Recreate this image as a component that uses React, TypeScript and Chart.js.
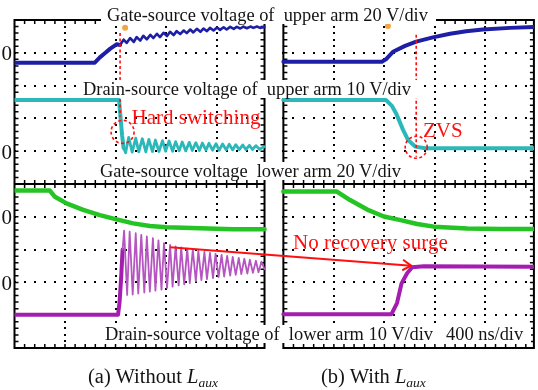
import React, { useEffect, useRef } from 'react';
import { Chart, registerables } from 'chart.js';

Chart.register(...registerables);

type Pt = [number, number];

// ---------- DATA (time in divisions from panel's left edge, level in divisions from bottom) ----------
// (a) Without Laux
const aGateUpper: Pt[] = [
  [0, 8.70], [1.59, 8.70], [1.69, 8.86], [1.80, 9.00], [1.89, 9.12], [2.02, 9.26],
  [2.09, 9.24], [2.16, 9.40], [2.22, 9.30], [2.29, 9.45], [2.36, 9.33], [2.42, 9.48], [2.49, 9.37], [2.55, 9.52], [2.62, 9.41], [2.69, 9.55],
  [2.75, 9.45], [2.82, 9.58], [2.88, 9.48], [2.95, 9.61], [3.02, 9.51], [3.08, 9.64], [3.15, 9.54], [3.21, 9.66], [3.28, 9.57], [3.35, 9.68],
  [3.41, 9.60], [3.48, 9.71], [3.54, 9.62], [3.61, 9.73], [3.68, 9.64], [3.74, 9.74], [3.81, 9.66], [3.87, 9.76], [3.94, 9.68], [4.01, 9.77],
  [4.07, 9.70], [4.14, 9.78], [4.20, 9.71], [4.27, 9.79], [4.34, 9.73], [4.40, 9.79], [4.47, 9.74], [4.53, 9.80], [4.60, 9.75], [4.67, 9.80],
  [4.73, 9.76], [4.80, 9.80], [4.86, 9.76], [4.95, 9.79],
];
const aDrainUpper: Pt[] = [
  [0, 7.56], [2.07, 7.56], [2.10, 7.01], [2.13, 6.49], [2.16, 6.10],
  [2.20, 5.95], [2.26, 6.42], [2.33, 5.97], [2.40, 6.40], [2.46, 5.98], [2.53, 6.38], [2.60, 5.98], [2.66, 6.36], [2.73, 5.99], [2.79, 6.34],
  [2.86, 5.99], [2.93, 6.32], [2.99, 6.00], [3.06, 6.31], [3.13, 6.00], [3.19, 6.29], [3.26, 6.01], [3.32, 6.28], [3.39, 6.01], [3.46, 6.27],
  [3.52, 6.02], [3.59, 6.26], [3.66, 6.02], [3.72, 6.25], [3.79, 6.03], [3.85, 6.24], [3.92, 6.03], [3.99, 6.23], [4.05, 6.03], [4.12, 6.22],
  [4.19, 6.04], [4.25, 6.21], [4.32, 6.04], [4.38, 6.20], [4.45, 6.05], [4.52, 6.19], [4.58, 6.05], [4.65, 6.18], [4.71, 6.05], [4.78, 6.17],
  [4.85, 6.06], [4.95, 6.14],
];
const aGateLower: Pt[] = [
  [0, 4.80], [0.70, 4.80], [0.80, 4.61], [1.03, 4.41], [1.36, 4.21], [1.69, 4.05], [2.02, 3.92],
  [2.35, 3.80], [2.68, 3.72], [3.01, 3.68], [3.67, 3.65], [4.33, 3.62], [4.95, 3.62],
];
const aDrainLower: Pt[] = [
  [0, 1.01], [2.05, 1.01], [2.08, 1.40], [2.11, 2.10], [2.14, 3.00], [2.17, 3.58],
  [2.23, 1.62], [2.28, 3.55], [2.34, 1.63], [2.40, 3.50], [2.45, 1.66], [2.51, 3.45], [2.57, 1.69], [2.62, 3.40], [2.68, 1.72], [2.74, 3.35],
  [2.79, 1.75], [2.85, 3.28], [2.91, 1.78], [2.96, 3.20], [3.02, 1.83], [3.08, 3.14], [3.13, 1.87], [3.19, 3.10], [3.25, 1.91], [3.30, 3.07],
  [3.36, 1.94], [3.42, 3.03], [3.47, 1.98], [3.53, 3.00], [3.59, 2.03], [3.64, 2.96], [3.70, 2.07], [3.76, 2.93], [3.81, 2.10], [3.87, 2.90],
  [3.93, 2.13], [3.98, 2.87], [4.04, 2.16], [4.10, 2.84], [4.15, 2.18], [4.21, 2.81], [4.27, 2.21], [4.32, 2.78], [4.38, 2.23], [4.44, 2.75],
  [4.49, 2.25], [4.55, 2.72], [4.61, 2.27], [4.66, 2.69], [4.72, 2.29], [4.78, 2.66], [4.83, 2.31], [4.89, 2.63], [4.95, 2.40],
];

// (b) With Laux
const bGateUpper: Pt[] = [
  [0, 8.73], [1.95, 8.73], [2.03, 8.80], [2.17, 9.03], [2.41, 9.21], [2.63, 9.34], [2.96, 9.47],
  [3.30, 9.58], [3.62, 9.66], [3.95, 9.71], [4.49, 9.76], [4.96, 9.79],
];
const bDrainUpper: Pt[] = [
  [0, 7.56], [2.03, 7.56], [2.15, 7.38], [2.23, 7.16], [2.37, 6.65], [2.47, 6.34], [2.61, 6.14], [2.81, 6.09], [4.96, 6.09],
];
const bGateLower: Pt[] = [
  [0, 4.77], [1.06, 4.77], [1.32, 4.51], [1.66, 4.22], [1.99, 4.01], [2.32, 3.90], [2.65, 3.78],
  [2.98, 3.70], [3.64, 3.64], [4.31, 3.63], [4.96, 3.63],
];
const bDrainLower: Pt[] = [
  [0, 1.03], [2.14, 1.03], [2.25, 1.37], [2.34, 1.97], [2.45, 2.28], [2.55, 2.46], [2.78, 2.49], [4.96, 2.48],
];

// annotations (per panel, local divisions)
const switchLineT = [2.09, 2.63];
const switchLineTop = [9.60, 9.55];
const switchLineBottom = [7.05, 5.83];
const circleCenters: Pt[] = [[2.14, 6.59], [2.63, 6.12]];
const triggerMarks: Pt[] = [[2.19, 9.76], [2.07, 9.82]];
const arrowFrom: Pt = [3.08, 3.07]; // panel (a)
const arrowTo: Pt = [2.53, 2.51];   // panel (b)
const ringStartA = { gateUpper: 2.09, drainUpper: 2.16, drainLower: 2.14 };
const zeroLevels = [9, 6, 4, 2];

// ---------- layout / style ----------
const panelOffset = [0, 5.323];
const panelSpan = [4.95, 4.96];
const X_MAX = 10.285;
const Y_DIVS = 10;
const BLUE = '#1e1ea6';
const CYAN = '#2cb8b8';
const GREEN = '#25c425';
const MAGENTA = '#a41cb0';
const MAGENTA_RING = '#b555c0';
const RED = '#ff1010';
const ORANGE = '#f2a540';
const circleRadiusPx = [11.5, 11];

const SERIF = '"Liberation Serif", "Times New Roman", serif';

const scopeLabels = [
  { text: 'Gate-source voltage of  upper arm 20 V/div', x: 107, base: 21 },
  { text: 'Drain-source voltage of  upper arm 10 V/div', x: 83, base: 95 },
  { text: 'Gate-source voltage  lower arm 20 V/div', x: 100, base: 177 },
  { text: 'Drain-source voltage of  lower arm 10 V/div', x: 105, base: 340 },
  { text: '400 ns/div', x: 446, base: 340 },
];
const redLabels = [
  { text: 'Hard switching', x: 131.5, base: 125 },
  { text: 'ZVS', x: 423, base: 138 },
  { text: 'No recovery surge', x: 293, base: 250 },
];

function shift(pts: Pt[], panel: number) {
  return pts.map(([t, v]) => ({ x: t + panelOffset[panel], y: v }));
}

const scopeGrid = {
  id: 'scopeGrid',
  beforeDatasetsDraw(chart: any) {
    const { ctx, scales } = chart;
    const xs = scales.x, ys = scales.y;
    ctx.save();
    ctx.fillStyle = '#000';
    ctx.strokeStyle = '#000';
    panelOffset.forEach((off, i) => {
      const span = panelSpan[i];
      const px = (d: number) => xs.getPixelForValue(off + d);
      const py = (v: number) => ys.getPixelForValue(v);
      const dot = (x: number, y: number) => ctx.fillRect(Math.round(x) - 1, Math.round(y) - 1, 2, 2);
      for (let d = 1; d <= 4; d++) {
        for (let k = 0; k <= Y_DIVS * 5; k++) dot(px(d), py(k * 0.2));
      }
      [1, 2, 3, 4, 6, 7, 8, 9].forEach((v) => {
        for (let k = 0; k * 0.2 <= span; k++) dot(px(k * 0.2), py(v));
      });
      const L = px(0), R = px(span), T = py(Y_DIVS), B = py(0), M = py(5);
      ctx.lineWidth = 2;
      ctx.strokeRect(L, T, R - L, B - T);
      ctx.beginPath();
      ctx.moveTo(L, M); ctx.lineTo(R, M);
      ctx.stroke();
      ctx.lineWidth = 1.5;
      ctx.beginPath();
      for (let k = 1; k < Y_DIVS * 5; k++) {
        const y = py(k * 0.2);
        ctx.moveTo(L, y); ctx.lineTo(L + 4, y);
        ctx.moveTo(R, y); ctx.lineTo(R - 4, y);
      }
      for (let k = 1; k * 0.2 < span; k++) {
        const x = px(k * 0.2);
        ctx.moveTo(x, T); ctx.lineTo(x, T + 4);
        ctx.moveTo(x, B); ctx.lineTo(x, B - 4);
        ctx.moveTo(x, M - 4); ctx.lineTo(x, M + 4);
      }
      ctx.stroke();
    });
    ctx.restore();
  },
};

const annotations = {
  id: 'annotations',
  afterDatasetsDraw(chart: any) {
    const { ctx, scales } = chart;
    const xs = scales.x, ys = scales.y;
    ctx.save();
    ctx.strokeStyle = RED;
    ctx.lineWidth = 1.6;
    ctx.setLineDash([3, 2.5]);
    circleCenters.forEach(([t, v], i) => {
      ctx.beginPath();
      ctx.arc(xs.getPixelForValue(t + panelOffset[i]), ys.getPixelForValue(v), circleRadiusPx[i], 0, Math.PI * 2);
      ctx.stroke();
    });
    ctx.setLineDash([]);
    const meta = chart.getDatasetMeta(0);
    const p0 = meta.data[0], p1 = meta.data[1];
    if (p0 && p1) {
      const ang = Math.atan2(p1.y - p0.y, p1.x - p0.x);
      const len = 10;
      ctx.lineWidth = 2;
      ctx.beginPath();
      ctx.moveTo(p1.x - len * Math.cos(ang - 0.55), p1.y - len * Math.sin(ang - 0.55));
      ctx.lineTo(p1.x, p1.y);
      ctx.lineTo(p1.x - len * Math.cos(ang + 0.55), p1.y - len * Math.sin(ang + 0.55));
      ctx.stroke();
    }
    ctx.restore();
  },
};

function ringWidth(start: number, thick: number, thin: number) {
  return (c: any) => (c.p0.parsed.x >= start ? thin : thick);
}
function ringColor(start: number, base: string, ring: string) {
  return (c: any) => (c.p0.parsed.x >= start ? ring : base);
}

export default function App() {
  const canvasRef = useRef<HTMLCanvasElement | null>(null);

  useEffect(() => {
    const canvas = canvasRef.current;
    if (!canvas) return;
    const trace = (data: any[], color: string, width: number, extra: any = {}) => ({
      data, borderColor: color, backgroundColor: color, borderWidth: width,
      pointRadius: 0, borderJoinStyle: 'round', borderCapStyle: 'round', fill: false, ...extra,
    });
    const datasets: any[] = [
      {
        data: [
          { x: arrowFrom[0] + panelOffset[0], y: arrowFrom[1] },
          { x: arrowTo[0] + panelOffset[1], y: arrowTo[1] },
        ],
        borderColor: RED, borderWidth: 2, pointRadius: 0,
      },
      ...switchLineT.map((t, i) => ({
        data: [
          { x: t + panelOffset[i], y: switchLineTop[i] },
          { x: t + panelOffset[i], y: switchLineBottom[i] },
        ],
        borderColor: RED, borderWidth: 1.6, borderDash: [3, 2.5], pointRadius: 0,
      })),
      {
        data: triggerMarks.map(([t, v], i) => ({ x: t + panelOffset[i], y: v })),
        showLine: false, pointRadius: 3, pointStyle: 'circle',
        backgroundColor: ORANGE, borderColor: ORANGE, borderWidth: 0,
      },
      trace(shift(aGateUpper, 0), BLUE, 3.5, { segment: { borderWidth: ringWidth(ringStartA.gateUpper, 4, 2.6) } }),
      trace(shift(aDrainUpper, 0), CYAN, 4, { segment: { borderWidth: ringWidth(ringStartA.drainUpper, 4, 2.8) } }),
      trace(shift(aGateLower, 0), GREEN, 4.5),
      trace(shift(aDrainLower, 0), MAGENTA, 4, {
        segment: {
          borderWidth: ringWidth(ringStartA.drainLower, 4, 1.8),
          borderColor: ringColor(ringStartA.drainLower, MAGENTA, MAGENTA_RING),
        },
      }),
      trace(shift(bGateUpper, 1), BLUE, 4),
      trace(shift(bDrainUpper, 1), CYAN, 4),
      trace(shift(bGateLower, 1), GREEN, 4.5),
      trace(shift(bDrainLower, 1), MAGENTA, 4),
    ];

    const chart = new Chart(canvas, {
      type: 'line',
      data: { datasets },
      options: {
        animation: false,
        responsive: false,
        maintainAspectRatio: false,
        devicePixelRatio: 1,
        layout: { padding: { left: 14.5, top: 20, right: 4, bottom: 42 } },
        scales: {
          x: { type: 'linear', min: 0, max: X_MAX, display: false },
          y: { type: 'linear', min: 0, max: Y_DIVS, display: false },
        },
        plugins: { legend: { display: false }, tooltip: { enabled: false } },
        elements: { line: { tension: 0 } },
      } as any,
      plugins: [scopeGrid, annotations],
    });
    return () => chart.destroy();
  }, []);

  const fsLabel = 18.4;
  const fsRed = 21;
  const asc = 0.8375;

  return (
    <div style={{ position: 'absolute', left: 0, top: 0, width: 538, height: 390, background: '#fff', overflow: 'hidden' }}>
      <canvas ref={canvasRef} width={538} height={390}
        style={{ position: 'absolute', left: 0, top: 0, width: 538, height: 390 }} />
      {scopeLabels.map((l, i) => (
        <div key={'s' + i} style={{
          position: 'absolute', left: l.x - 6, top: l.base - asc * fsLabel,
          fontFamily: SERIF, fontSize: fsLabel, lineHeight: 1, whiteSpace: 'pre',
          background: '#fff', color: '#141414', padding: '0 8px 0 6px',
        }}>{l.text}</div>
      ))}
      {redLabels.map((l, i) => (
        <div key={'r' + i} style={{
          position: 'absolute', left: l.x, top: l.base - asc * fsRed,
          fontFamily: SERIF, fontSize: fsRed, lineHeight: 1, whiteSpace: 'pre', color: RED,
        }}>{l.text}</div>
      ))}
      {zeroLevels.map((v, i) => (
        <div key={'z' + i} style={{
          position: 'absolute', left: 1.5, top: 348 - v * 32.8 + 8 - asc * 21,
          fontFamily: SERIF, fontSize: 21, lineHeight: 1, color: '#141414',
        }}>0</div>
      ))}
      <div style={{ position: 'absolute', left: 88, top: 383 - asc * 20.5, fontFamily: SERIF, fontSize: 20.5, lineHeight: 1, whiteSpace: 'pre', color: '#141414' }}>
        (a) Without <i>L</i><i style={{ fontSize: 13.5, position: 'relative', top: 4 }}>aux</i>
      </div>
      <div style={{ position: 'absolute', left: 321, top: 383 - asc * 20.5, fontFamily: SERIF, fontSize: 20.5, lineHeight: 1, whiteSpace: 'pre', color: '#141414' }}>
        (b) With <i>L</i><i style={{ fontSize: 13.5, position: 'relative', top: 4 }}>aux</i>
      </div>
    </div>
  );
}
